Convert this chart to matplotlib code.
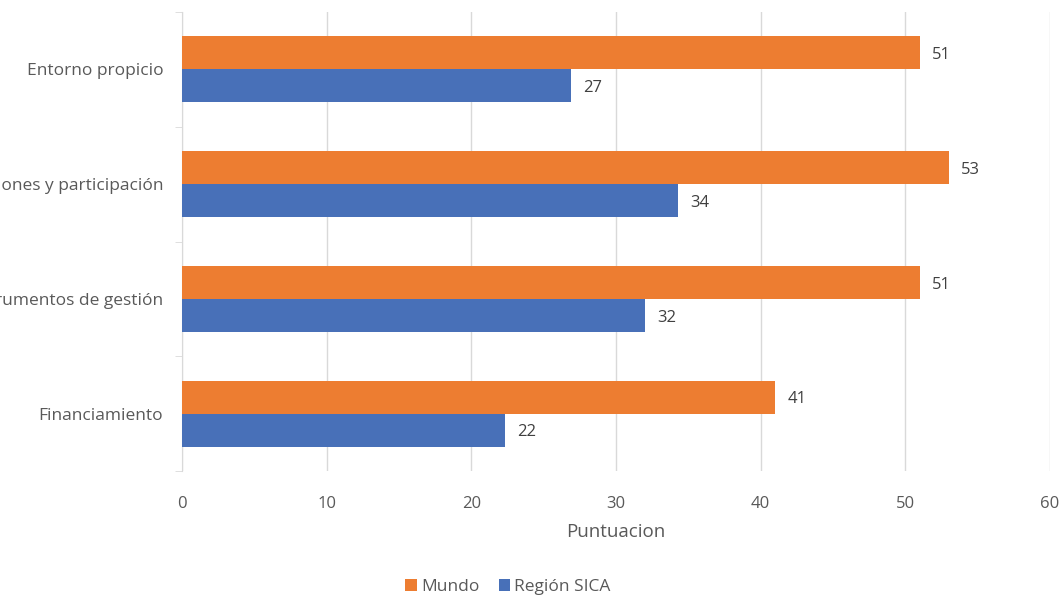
import numpy as np
import matplotlib.pyplot as plt

plt.rcParams['font.family'] = ['Open Sans', 'DejaVu Sans']

# scores per dimension, top to bottom
categorias = ['Entorno propicio', 'Instituciones y participación',
              'Instrumentos de gestión', 'Financiamiento']
mundo = [51.0, 53.0, 51.0, 41.0]
sica = [26.9, 34.3, 32.0, 22.3]

col_mundo = '#ED7D31'
col_sica = '#4870B8'
txt_col = '#595959'
grid_col = '#D9D9D9'

fig = plt.figure(figsize=(10.62, 5.96), dpi=100)
ax = fig.add_axes([182 / 1062, 1 - 471 / 596, (1050 - 182) / 1062, (471 - 12) / 596])

n = len(categorias)
y = np.arange(n)
h = 0.287

ax.barh(y - h / 2, mundo, height=h, color=col_mundo, label='Mundo', zorder=3)
ax.barh(y + h / 2, sica, height=h, color=col_sica, label='Región SICA', zorder=3)

for yi, v in zip(y, mundo):
    ax.text(v + 0.85, yi - h / 2 + 0.02, f'{v:.0f}', va='center', ha='left',
            fontsize=12, color='#404040')
for yi, v in zip(y, sica):
    ax.text(v + 0.85, yi + h / 2 + 0.02, f'{v:.0f}', va='center', ha='left',
            fontsize=12, color='#404040')

ax.set_ylim(n - 0.5, -0.5)
ax.set_xlim(0, 60)
ax.set_xticks(np.arange(0, 61, 10))
ax.set_yticks(y)
ax.set_yticklabels(categorias)
ax.set_yticks(np.arange(-0.5, n, 1), minor=True)

ax.grid(axis='x', color=grid_col, linewidth=1, zorder=0)
for s in ['top', 'right', 'bottom']:
    ax.spines[s].set_visible(False)
ax.spines['left'].set_color(grid_col)

ax.tick_params(axis='y', which='major', length=0, pad=13.5, labelsize=12.5, labelcolor=txt_col)
ax.tick_params(axis='y', which='minor', length=5, color=grid_col)
ax.tick_params(axis='x', length=0, pad=18, labelsize=12, labelcolor=txt_col)

ax.set_xlabel('Puntuacion', fontsize=13.5, color=txt_col, labelpad=8)

ax.legend(loc='center', bbox_to_anchor=(508 / 1062, (596 - 587) / 596), bbox_transform=fig.transFigure,
          ncol=2, frameon=False, fontsize=12.5, labelcolor=txt_col,
          handlelength=0.65, handleheight=0.65, handletextpad=0.25, columnspacing=1.1)

fig.savefig('out.png', dpi=100)
